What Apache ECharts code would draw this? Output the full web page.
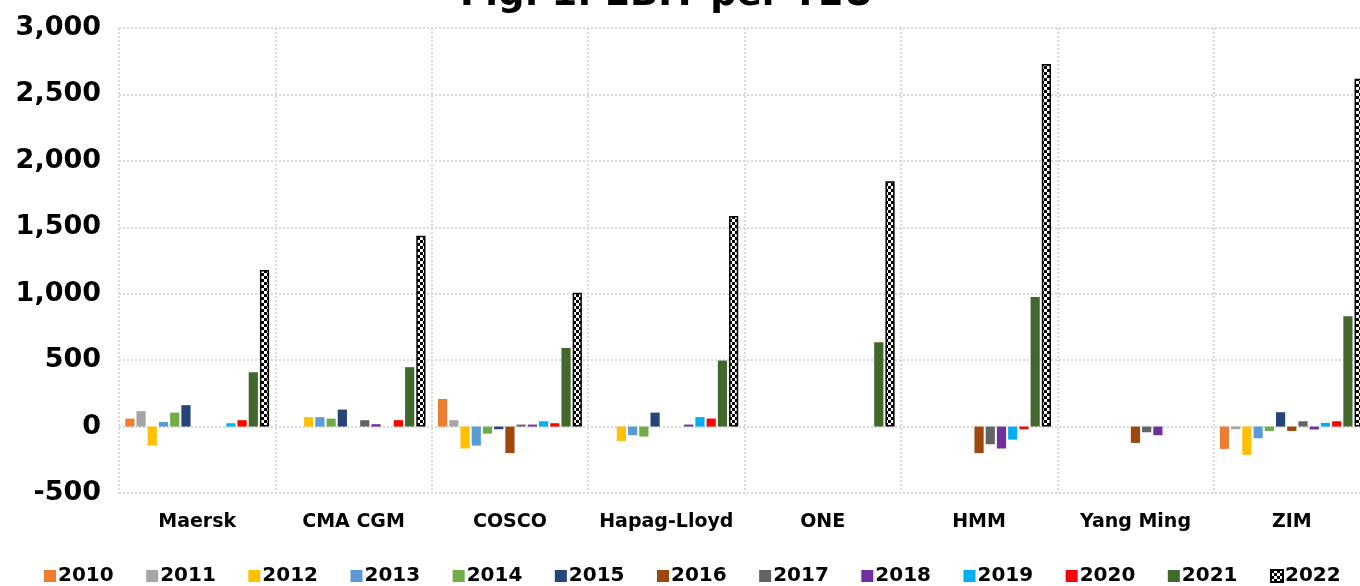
<!DOCTYPE html>
<html>
<head>
<meta charset="utf-8">
<script src="https://cdn.jsdelivr.net/npm/echarts@6/dist/echarts.min.js"></script>
<style>
  html, body { margin: 0; padding: 0; background: #fff; overflow: hidden; }
  #main { width: 1370px; height: 586px; }
</style>
</head>
<body>
<div id="main"></div>
<script>
// carriers on the x axis
var carriers = ['Maersk', 'CMA CGM', 'COSCO', 'Hapag-Lloyd', 'ONE', 'HMM', 'Yang Ming', 'ZIM'];
var years = ['2010', '2011', '2012', '2013', '2014', '2015', '2016', '2017', '2018', '2019', '2020', '2021', '2022'];

// EBIT per TEU, one array per year, order follows carriers (null = no bar)
var y2010 = [60, null, 208, null, null, null, null, -168];
var y2011 = [116, null, 48, null, null, null, null, -20];
var y2012 = [-143, 71, -165, -108, null, null, null, -213];
var y2013 = [35, 71, -143, -65, null, null, null, -88];
var y2014 = [105, 60, -53, -75, null, null, null, -33];
var y2015 = [161, 128, -20, 105, null, null, null, 108];
var y2016 = [null, null, -200, null, null, -200, -123, -33];
var y2017 = [null, 48, 15, null, null, -133, -43, 40];
var y2018 = [null, 18, 15, 15, null, -165, -65, -22];
var y2019 = [25, null, 40, 71, null, -98, null, 28];
var y2020 = [48, 48, 25, 60, null, -20, null, 40];
var y2021 = [409, 447, 592, 497, 635, 976, null, 830];
var y2022 = [1179, 1437, 1008, 1585, 1846, 2729, null, 2618];

var yearData = [y2010, y2011, y2012, y2013, y2014, y2015, y2016, y2017, y2018, y2019, y2020, y2021, y2022];
var colors = ['#ED7D31', '#A5A5A5', '#FFC000', '#5B9BD5', '#70AD47', '#264478', '#9E480E',
              '#636363', '#7030A0', '#00B0F0', '#FF0000', '#43682B', '#000000'];

// checkered fill for 2022
function checker() {
  var c = document.createElement('canvas');
  c.width = 6; c.height = 6;
  var ctx = c.getContext('2d');
  ctx.fillStyle = '#000';
  ctx.fillRect(0, 0, 6, 6);
  ctx.fillStyle = '#fff';
  ctx.fillRect(3, 0, 3, 3);
  ctx.fillRect(0, 3, 3, 3);
  return c;
}

var font = 'DejaVu Sans';

var series = years.map(function(y, i) {
  var s = {
    name: y,
    type: 'bar',
    data: yearData[i],
    barGap: '22%',
    barCategoryGap: '8%',
    itemStyle: { color: colors[i] }
  };
  if (y === '2022') {
    s.itemStyle = {
      color: { image: checker(), repeat: 'repeat' },
      borderColor: '#000',
      borderWidth: 1.5
    };
  }
  return s;
});

var myChart = echarts.init(document.getElementById('main'));

var option = {
  animation: false,
  title: {
    text: 'Fig. 1: EBIT per TEU',
    left: 455,
    top: -28,
    textStyle: { fontFamily: font, fontWeight: 'bold', fontSize: 37, color: '#000' }
  },
  legend: {
    bottom: -5,
    left: 39,
    itemWidth: 12,
    itemHeight: 12,
    itemGap: 32.5,
    icon: 'rect',
    data: years,
    textStyle: { fontFamily: font, fontWeight: 'bold', fontSize: 20, color: '#000', padding: [0, 0, 0, -3] }
  },
  grid: { left: 119, right: 0, top: 28, bottom: 93 },
  xAxis: {
    type: 'category',
    data: carriers,
    axisLine: { show: false },
    axisTick: { show: false },
    axisLabel: { interval: 0, margin: 20, fontFamily: font, fontWeight: 'bold', fontSize: 19, color: '#000' },
    splitLine: { show: true, interval: 0, lineStyle: { color: '#d9d9d9', width: 2, type: 'dotted' } }
  },
  yAxis: {
    type: 'value',
    min: -500,
    max: 3000,
    interval: 500,
    axisLine: { show: false },
    axisTick: { show: false },
    axisLabel: { margin: 18, fontFamily: font, fontWeight: 'bold', fontSize: 27, color: '#000' },
    splitLine: { lineStyle: { color: '#d9d9d9', width: 2, type: 'dotted' } }
  },
  series: series
};

myChart.setOption(option);
</script>
</body>
</html>
